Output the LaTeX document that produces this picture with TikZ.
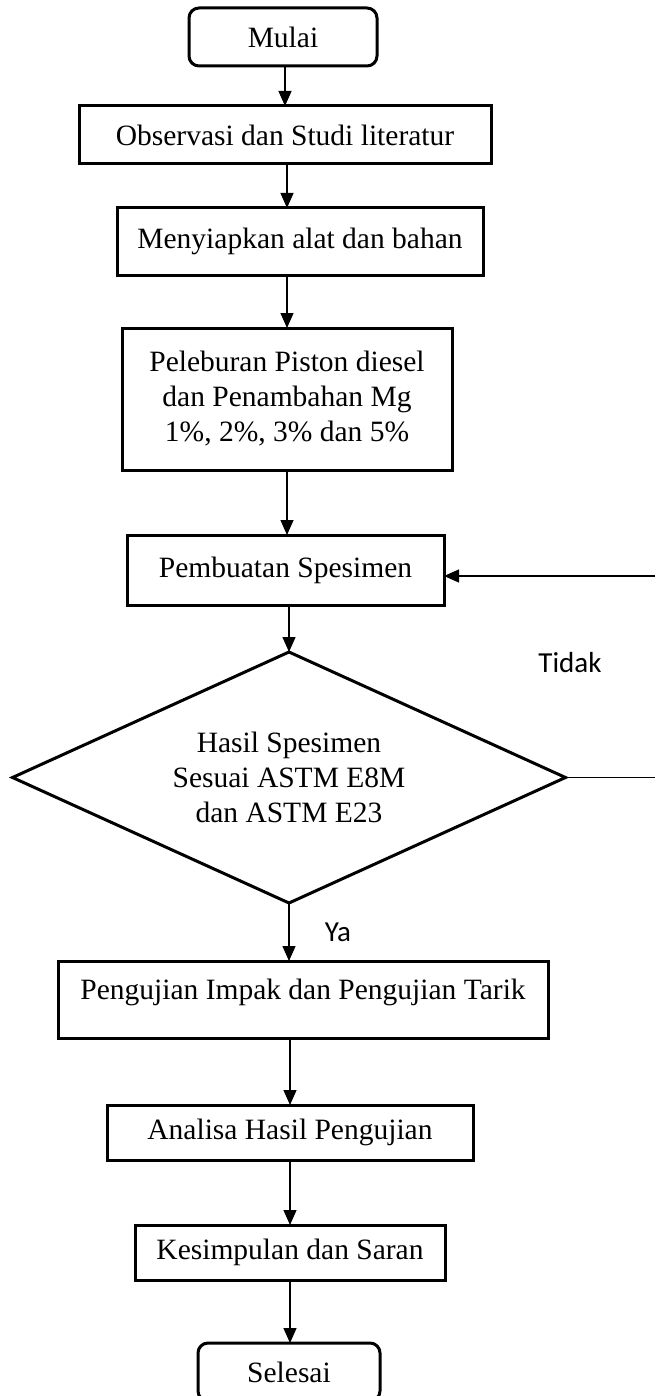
\documentclass[tikz,border=0pt]{standalone}
\usepackage{fontspec}
\setmainfont{Liberation Serif}
\newfontfamily\lblfont{Carlito}
\usetikzlibrary{shapes.geometric,arrows.meta}
\begin{document}
\begin{tikzpicture}[x=0.5pt,y=-0.5pt,
  every node/.style={font=\fontsize{14.75pt}{17.5pt}\selectfont},
  box/.style={draw,line width=1.5pt,inner sep=0pt,outer sep=0pt,align=center},
  term/.style={box,rounded corners=5pt},
  dec/.style={draw,diamond,shape aspect=2.21,line width=1.5pt,inner sep=0pt,outer sep=0pt,align=center,minimum width=276.5pt,minimum height=125.5pt},
  arr/.style={line width=0.65pt,-{Triangle[width=6.5pt,length=7.5pt]}},
  ln/.style={line width=0.65pt},
  lbl/.style={font=\lblfont\fontsize{14.5pt}{16pt}\selectfont}]
\useasboundingbox (0,0) rectangle (655,1396);

\node[term,minimum width=94pt,minimum height=29pt] (mulai) at (283,37) {Mulai};
\node[box,minimum width=206pt,minimum height=29pt] (obs) at (285,135) {Observasi dan Studi literatur};
\node[box,minimum width=183pt,minimum height=33.5pt] (siap) at (300,241.5) {Menyiapkan alat dan bahan};
\node[box,minimum width=165pt,minimum height=71pt] (lebur) at (287,399) {Peleburan Piston diesel\\dan Penambahan Mg\\1\%, 2\%, 3\% dan 5\%};
\node[box,minimum width=158.5pt,minimum height=35pt] (spes) at (285.5,570) {Pembuatan Spesimen};
\node[dec] (hasil) at (289,777.5) {Hasil Spesimen\\Sesuai ASTM E8M\\dan ASTM E23};
\node[box,minimum width=245pt,text height=19pt,text depth=19.5pt,inner ysep=0pt] (uji) at (303,999.5) {Pengujian Impak dan Pengujian Tarik};
\node[box,minimum width=183pt,minimum height=27.5pt] (anal) at (290,1132.5) {Analisa Hasil Pengujian};
\node[box,minimum width=155pt,minimum height=27.5pt] (kes) at (290,1252.5) {Kesimpulan dan Saran};
\node[term,minimum width=91pt,minimum height=29pt] (sel) at (289,1372) {Selesai};

\coordinate (r1) at (655,777.5);
\coordinate (r2) at (655,576);

\draw[arr] (mulai.south -| 285,0) -- (obs.north -| 285,0);
\draw[arr] (obs.south -| 287,0) -- (siap.north -| 287,0);
\draw[arr] (lebur.north |- siap.south) -- (lebur.north);
\draw[arr] (lebur.south) -- (lebur.south |- spes.north);
\draw[arr] (hasil.north |- spes.south) -- (hasil.north);
\draw[arr] (hasil.south) -- (hasil.south |- uji.north);
\draw[arr] (anal.north |- uji.south) -- (anal.north);
\draw[arr] (anal.south) -- (anal.south |- kes.north);
\draw[arr] (kes.south) -- (kes.south |- sel.north);
\draw[ln] (hasil.east) -- (r1);
\draw[arr] (r2) -- (r2 -| spes.east);

\node[lbl] (tidak) at (570,663) {Tidak};
\node[lbl] (ya) at (338,932) {Ya};
\end{tikzpicture}
\end{document}
